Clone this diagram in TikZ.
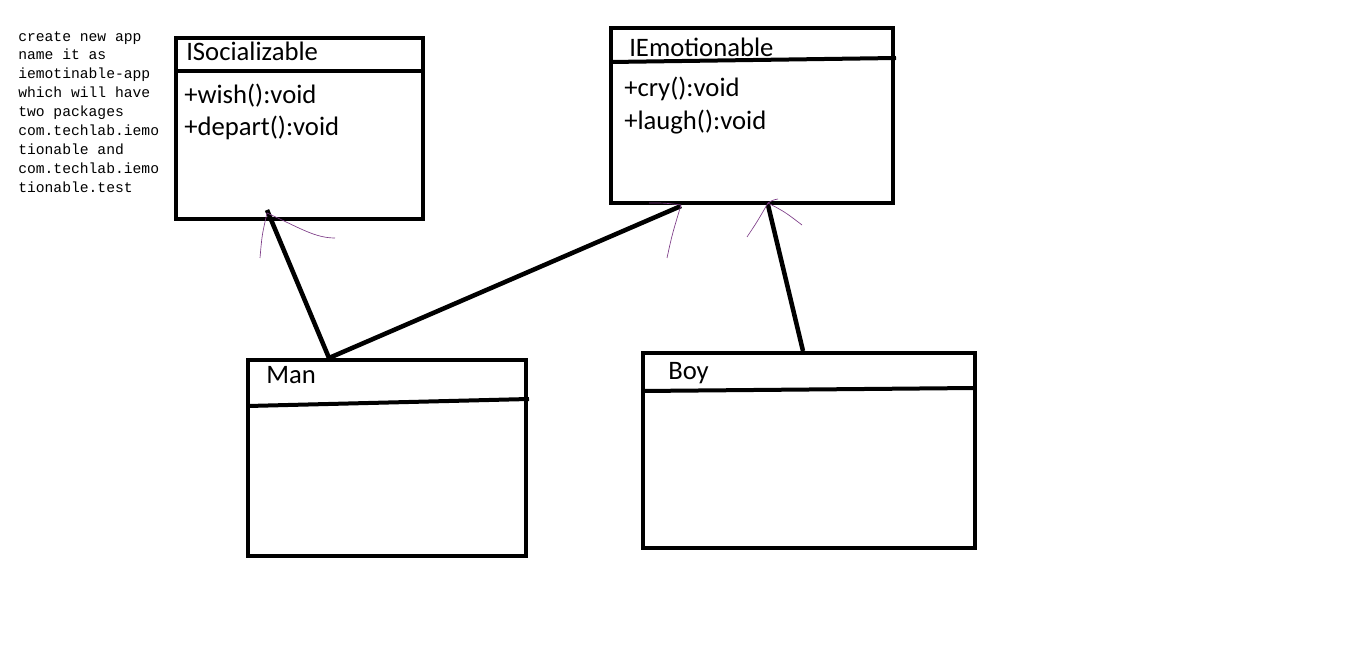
\documentclass[tikz,border=0pt]{standalone}
\usepackage{fontspec}
\setmainfont{Carlito}
\newfontfamily\notefont{Liberation Mono}
\definecolor{penpurple}{RGB}{125,60,135}
\begin{document}
\begin{tikzpicture}[x=0.75pt,y=-0.75pt,
    box/.style={draw,line width=3pt},
    link/.style={line width=3.4pt},
    pen/.style={draw=penpurple,line width=0.5pt},
    cname/.style={anchor=base west,inner sep=0pt,font=\fontsize{20}{24}\selectfont},
    note/.style={anchor=north west,inner sep=0pt,align=left,font=\notefont\fontsize{11}{14.2}\selectfont}]
\useasboundingbox (0,0) rectangle (1345,648);
% note
\node[note] (note) at (18,31) {create new app\\name it as\\iemotinable-app\\which will have\\two packages\\com.techlab.iemo\\tionable and\\com.techlab.iemo\\tionable.test};
% boxes
\draw[box] (176,38) rectangle (423,219);
\draw[box] (176,71) -- (423,71);
\draw[box] (611,28) rectangle (893,203);
\draw[box] (611,62) -- (896,58);
\draw[box] (248,360) rectangle (526,556);
\draw[box] (248,406) -- (529,399);
\draw[box] (643,353) rectangle (975,548);
\draw[box] (643,391) -- (975,388);
% texts
\node[cname] (1) at (186,61) {ISocializable};
\node[cname] (2) at (184,104) {+wish():void};
\node[cname] (3) at (184,136) {+depart():void};
\node[cname] (4) at (629,57) {IEmotionable};
\node[cname] (5) at (624,97) {+cry():void};
\node[cname] (6) at (624,130) {+laugh():void};
\node[cname] (7) at (266,383) {Man};
\node[cname] (8) at (668,379) {Boy};
% connector ends
\node (10) at (267,210) {};
\node (11) at (681,206) {};
\node (12) at (768,205) {};
\node (13) at (329,358) {};
\node (14) at (803,351) {};
\draw[link] (13.center) to (10.center);
\draw[link] (13.center) to (11.center);
\draw[link] (14.center) to (12.center);
% hand drawn heads
\draw[pen] (267,213) .. controls (262,235) .. (260,258);
\draw[pen] (267,213) .. controls (300,228) and (315,238) .. (335,238);
\draw[pen] (681,205) .. controls (672,235) .. (667,258);
\draw[pen] (681,205) .. controls (665,203) .. (649,203);
\draw[pen] (768,203) .. controls (757,222) .. (747,237);
\draw[pen] (768,203) .. controls (785,212) .. (802,225);
\draw[pen] (768,203) .. controls (773,200) .. (778,199);
\end{tikzpicture}
\end{document}
